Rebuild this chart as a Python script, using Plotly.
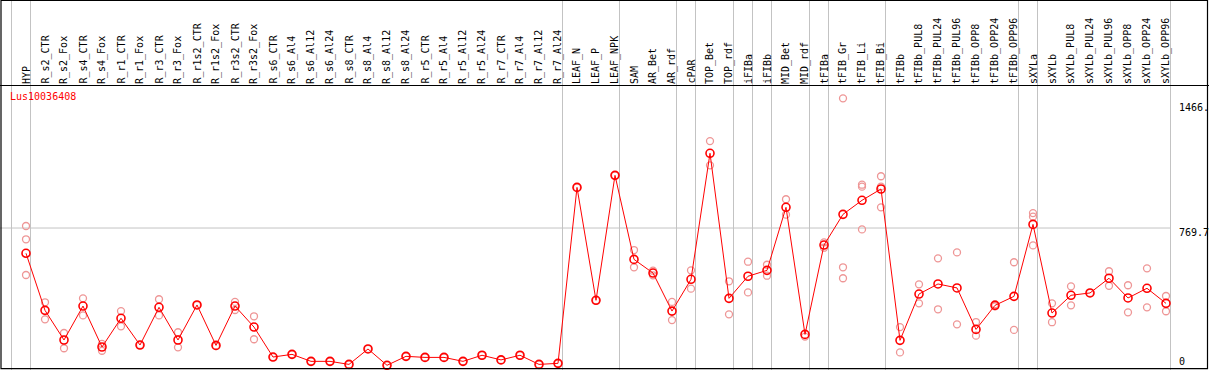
import plotly.graph_objects as go

gene = "Lus10036408"

categories = [
    "HYP",
    "R_s2_CTR", "R_s2_Fox", "R_s4_CTR", "R_s4_Fox", "R_r1_CTR", "R_r1_Fox",
    "R_r3_CTR", "R_r3_Fox", "R_r1s2_CTR", "R_r1s2_Fox", "R_r3s2_CTR", "R_r3s2_Fox",
    "R_s6_CTR", "R_s6_Al4", "R_s6_Al12", "R_s6_Al24", "R_s8_CTR", "R_s8_Al4",
    "R_s8_Al12", "R_s8_Al24", "R_r5_CTR", "R_r5_Al4", "R_r5_Al12", "R_r5_Al24",
    "R_r7_CTR", "R_r7_Al4", "R_r7_Al12", "R_r7_Al24",
    "LEAF_N", "LEAF_P", "LEAF_NPK",
    "SAM", "AR_Bet", "AR_rdf",
    "cPAR",
    "TOP_Bet", "TOP_rdf",
    "iFIBa",
    "iFIBb",
    "MID_Bet", "MID_rdf",
    "tFIBa",
    "tFIB_Gr", "tFIB_Li", "tFIB_Bi",
    "tFIBb", "tFIBb_PUL8", "tFIBb_PUL24", "tFIBb_PUL96", "tFIBb_OPP8", "tFIBb_OPP24", "tFIBb_OPP96",
    "sXYLa",
    "sXYLb", "sXYLb_PUL8", "sXYLb_PUL24", "sXYLb_PUL96", "sXYLb_OPP8", "sXYLb_OPP24", "sXYLb_OPP96",
]

means = [
    629,
    311, 146, 335, 107, 267, 118, 328, 146, 341, 116, 335, 218,
    51, 66, 27, 27, 10, 96, 5, 55, 49, 49, 27, 61, 35, 61, 10, 16,
    996, 367, 1063,
    595, 519, 307,
    484,
    1186, 378,
    501,
    534,
    885, 177,
    675,
    846, 924, 987,
    144, 402, 458, 436, 205, 339, 389,
    790,
    296, 395, 408, 490, 380, 434, 350,
]

replicates = [
    [781, 707, 508],
    [356, 261], [185, 100], [378, 283], [124, 86], [307, 222], [118],
    [373, 283], [189, 105], [341], [112], [358, 313], [278, 150],
    [51], [66], [27], [27], [10], [96], [5], [55], [49], [49], [27], [61], [35], [61], [10], [16],
    [996], [367], [1063],
    [647, 551], [532, 506], [358, 257],
    [534, 432],
    [1254, 1119], [473, 289],
    [582, 411],
    [565, 504],
    [930, 844], [165],
    [690, 660],
    [1492, 551, 490], [1011, 1000, 762], [1058, 1000, 885],
    [218, 77], [456, 350], [601, 317], [634, 233], [246, 170], [345, 333], [579, 202],
    [853, 833, 673],
    [350, 245], [445, 339], [408], [529, 448], [451, 300], [545, 328], [391, 306],
]

# last category index of each group (-1 = left edge before the first group)
group_ends = [-1, 0, 28, 31, 34, 35, 37, 38, 39, 41, 42, 45, 52, 53, 60]

y_tick_values = [1466.0, 769.7, 0.0]
y_tick_labels = ["1466.", "769.7", "0"]
grid_value = 769.7

W, H = 1209, 370
# pixel geometry of the category axis and value axis
X0_PX, STEP_PX = 26.0, 19.0
Y0_PX, Y_SCALE = 366.2, 0.17952   # pixel of value 0, pixels per unit
HEADER_PX = 85.5

x_range = [-X0_PX / STEP_PX, (W - X0_PX) / STEP_PX]
y_range = [(Y0_PX - H) / Y_SCALE, Y0_PX / Y_SCALE]

idx = list(range(len(categories)))
rep_x = [i for i, reps in zip(idx, replicates) for _ in reps]
rep_y = [v for reps in replicates for v in reps]

FONT = "DejaVu Sans Mono"

fig = go.Figure()
fig.add_trace(go.Scatter(
    x=rep_x, y=rep_y, mode="markers",
    marker=dict(symbol="circle-open", size=7, color="rgb(238,150,150)",
                line=dict(width=1.3, color="rgb(238,150,150)")),
    hoverinfo="skip", showlegend=False,
))
fig.add_trace(go.Scatter(
    x=idx, y=means, mode="lines+markers",
    line=dict(color="#ff0000", width=1),
    marker=dict(symbol="circle-open", size=8, color="#ff0000",
                line=dict(width=1.6, color="#ff0000")),
    text=categories, showlegend=False,
))

shapes = []
gray = "rgb(195,195,195)"
for k in group_ends:
    xv = k + 4.5 / STEP_PX
    shapes.append(dict(type="line", xref="x", yref="paper", x0=xv, x1=xv, y0=0, y1=1,
                       line=dict(color=gray, width=1), layer="below"))
shapes.append(dict(type="line", xref="x", yref="y",
                   x0=x_range[0], x1=group_ends[-1] + 4.5 / STEP_PX,
                   y0=grid_value, y1=grid_value,
                   line=dict(color=gray, width=1), layer="below"))
# borders
shapes.append(dict(type="rect", xref="paper", yref="paper",
                   x0=1.0 / W, x1=(W - 1.5) / W, y0=1 - 368.6 / H, y1=1 - 0.5 / H,
                   line=dict(color="black", width=1.2), fillcolor="rgba(0,0,0,0)"))
shapes.append(dict(type="line", xref="paper", yref="paper",
                   x0=0, x1=1, y0=1 - HEADER_PX / H, y1=1 - HEADER_PX / H,
                   line=dict(color="black", width=1.2)))

annotations = []
for i, name in enumerate(categories):
    annotations.append(dict(
        x=i, xref="x", y=1 - (HEADER_PX - 0.5) / H, yref="paper",
        text=name, textangle=-90, showarrow=False,
        xanchor="center", yanchor="bottom",
        font=dict(family=FONT, size=10, color="black"),
        borderpad=0,
    ))
annotations.append(dict(
    x=8.5 / W, xref="paper", y=1 - 90 / H, yref="paper",
    text=gene, showarrow=False, xanchor="left", yanchor="top",
    font=dict(family=FONT, size=10, color="#ff0000"), borderpad=0,
))
for v, lab in zip(y_tick_values, y_tick_labels):
    if v > 0:
        annotations.append(dict(
            x=1177.5 / W, xref="paper", y=v, yref="y", text=lab, showarrow=False,
            xanchor="left", yanchor="top", yshift=2,
            font=dict(family=FONT, size=10, color="black"), borderpad=0,
        ))
    else:
        annotations.append(dict(
            x=1177.5 / W, xref="paper", y=v, yref="y", text=lab, showarrow=False,
            xanchor="left", yanchor="bottom", yshift=-2,
            font=dict(family=FONT, size=10, color="black"), borderpad=0,
        ))

fig.update_layout(
    width=W, height=H,
    margin=dict(l=0, r=0, t=0, b=0, pad=0),
    paper_bgcolor="white", plot_bgcolor="white",
    xaxis=dict(range=x_range, visible=False, fixedrange=True),
    yaxis=dict(range=y_range, visible=False, fixedrange=True),
    shapes=shapes, annotations=annotations,
    showlegend=False,
    hovermode=False,
)

fig.write_html(
    "out.html",
    config={"displayModeBar": False, "staticPlot": True},
    post_script="document.body.style.margin='0px';document.body.style.overflow='hidden';",
)
